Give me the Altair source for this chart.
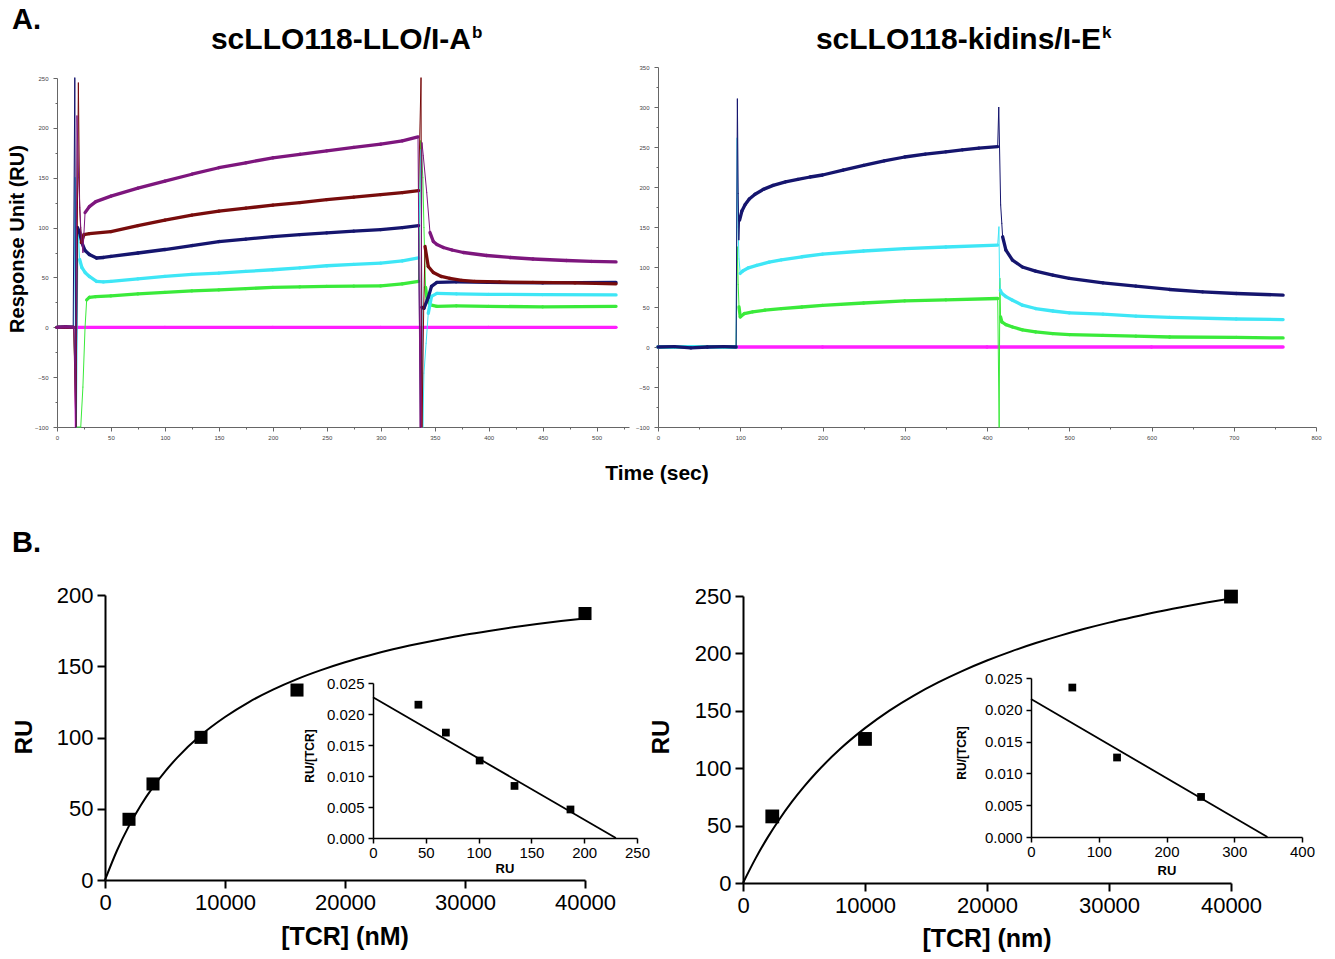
import altair as alt
import pandas as pd

W, H = 1335, 959
FONT = "Liberation Sans"

# ---------------- A. SPR sensorgrams (time in s, response in RU) ----------------
# left panel: scLLO118-LLO/I-Ab
L_PURPLE_T = [0, 8, 15.5, 16.5, 17.2, 18.5, 20, 22, 24, 26, 30, 36, 50, 75, 100, 125, 150, 175, 200, 225, 250, 275, 300, 320, 334.5, 336.5, 338.2, 339.4, 342.6, 345.6, 348.7, 352, 358, 366, 376.5, 398, 420, 441, 472, 495, 518]
L_PURPLE_RU = [0, 0.5, 0, -40, -100, 212, 150, 100, 75, 115, 121, 126, 131.5, 139.5, 146.6, 153.5, 160, 165, 170, 173.5, 177, 180.5, 183.6, 187, 191, -100, 185, 172, 135, 95, 86, 83, 80, 77.5, 75, 72, 70, 68.5, 67, 66, 65.5]
L_MAROON_T = [0, 8, 15.5, 17.5, 19.8, 21, 22.5, 25, 30, 50, 75, 100, 125, 150, 175, 200, 225, 250, 275, 300, 320, 335, 337.3, 338.2, 339.8, 341, 344, 348.7, 356, 364, 375, 387, 410, 441, 480, 518]
L_MAROON_RU = [0, 0, 0, -100, 245, 120, 85, 93, 94, 96, 102, 107.5, 112.5, 116.4, 119.5, 122.5, 125, 128, 130.5, 133, 135, 137, 250, -100, 20, 81, 61, 55, 51, 49, 47, 46, 45.5, 45, 44.5, 43.6]
L_NAVY_T = [0, 8, 15, 16.5, 17.5, 19, 21, 23, 26, 30, 36.6, 43, 50, 75, 100, 125, 150, 175, 200, 225, 250, 275, 300, 320, 335, 336.8, 338, 340, 344, 347, 352, 370, 400, 450, 518]
L_NAVY_RU = [0, 0.5, 0, 250, -100, 100, 95, 85, 77, 73, 69.5, 70, 71, 74.5, 78, 82, 86, 88.5, 91, 93, 94.6, 96.5, 98, 100, 102, -100, 20, 19, 30, 41, 45, 45.5, 45, 44.5, 45]
L_CYAN_T = [0, 8, 15.5, 16.8, 18, 19.5, 21, 23, 26, 30, 36.6, 43, 50, 75, 100, 125, 150, 175, 200, 225, 250, 275, 300, 320, 335, 337, 339, 340, 342, 344, 347, 352, 370, 400, 450, 518]
L_CYAN_RU = [0, 0, 0, 150, -100, 100, 68, 60, 55, 51, 46, 45.5, 46, 48.5, 51, 53, 54.4, 56, 57.7, 59.5, 61.7, 63, 64.4, 66.5, 69.5, 178, -100, -46, -16, 14, 31, 34, 33.5, 33, 32.8, 32.5]
L_GREEN_T = [0, 8, 15.5, 18, 22, 24, 26, 27.5, 30, 36, 50, 75, 100, 125, 150, 175, 200, 225, 250, 275, 300, 320, 335, 337, 339, 340, 341.5, 343, 346, 352, 370, 400, 450, 518]
L_GREEN_RU = [0, 0, 0, -100, -100, -60, 0, 27.5, 30, 30.8, 31.5, 33.5, 35, 36.5, 37.5, 38.8, 40, 40.5, 41, 41.3, 41.6, 43.5, 46, 187, 150, 100, 40, 27.5, 22.5, 21, 21.5, 21, 20.5, 21]
L_MAGENTA_T = [0, 16, 17, 18, 100, 200, 300, 336.5, 337.5, 338.5, 400, 518]
L_MAGENTA_RU = [0, 0, -100, 0, 0, 0, 0, 0, -100, 0, 0, 0]

# right panel: scLLO118-kidins/I-Ek
R_NAVY_T = [0, 20, 40, 60, 80, 95, 96.5, 97.5, 98.3, 99.2, 102, 106, 111, 118, 128, 140, 155, 170, 185, 200, 225, 250, 275, 300, 325, 350, 370, 390, 413, 414.3, 416.6, 418, 419, 423, 431, 443, 459, 480, 500, 541, 581, 622, 662, 703, 760]
R_NAVY_RU = [0, 0.5, -1, 0, 0.5, 0, 310, 192, 134, 158.7, 170, 178, 185, 191, 197, 202, 206.5, 209.5, 212.5, 215, 221.2, 227, 232.7, 237.5, 241.2, 244, 246.4, 248.5, 250.5, 299.5, 177.6, 154.6, 137.8, 121, 108.6, 100, 94.8, 89.8, 85.7, 80.2, 76, 71.9, 69, 66.9, 64.8]
R_CYAN_T = [0, 20, 40, 60, 80, 95, 96.2, 97.3, 98.5, 100, 103, 110, 120, 135, 150, 175, 200, 250, 300, 350, 413, 414.5, 415.2, 416.2, 418, 423, 431, 443, 459, 480, 500, 541, 581, 622, 703, 760]
R_CYAN_RU = [0, 0, 0.5, 0, 0, 0, 261, 150, 110, 92, 95, 99, 102, 106, 109, 112.8, 116, 120, 123, 125, 127.4, 150, 89.8, 71, 67, 63, 58.5, 52.3, 48.1, 45, 42.6, 41, 38.5, 37, 35, 34.3]
R_GREEN_T = [0, 20, 40, 60, 80, 95, 96.3, 97.5, 98.5, 100, 105, 115, 130, 150, 175, 200, 250, 300, 350, 413, 414.8, 415.6, 416.5, 418, 423, 431, 443, 459, 480, 500, 541, 581, 622, 703, 760]
R_GREEN_RU = [0, 0, 0, 0.5, 0, 0, 125, 78, 50, 37.6, 41.8, 44, 46, 48, 50, 52, 55, 57.6, 59, 60.6, -100, 85.7, 37.6, 31.3, 28, 25, 21.5, 18.8, 16.7, 15.5, 14.6, 13.5, 12.5, 12, 11.3]
R_MAGENTA_T = [0, 95, 200, 400, 600, 760]
R_MAGENTA_RU = [0, 0, 0, 0, 0, 0]

TRACE_NAMES = ["purple", "maroon", "navy", "cyan", "green", "magenta"]
TRACE_COLORS = ["#7d167d", "#780c0c", "#15156e", "#3ee6f6", "#3aea3a", "#ff1eff"]

# ---------------- B. equilibrium binding ----------------
BL_TCR = [2000, 4000, 8000, 16000, 40000]
BL_RU = [42.6, 67.4, 100.1, 133.3, 187]
BL_CURVE_TCR = [0, 1000, 2000, 3000, 4000, 5000, 6000, 8000, 10000, 12000, 14000, 16000, 18000, 20000, 22000, 24000, 26000, 28000, 30000, 32000, 34000, 36000, 38000, 40000]
BL_CURVE_RU = [0, 20.7, 38.0, 52.7, 65.2, 76.1, 85.7, 101.7, 114.4, 124.9, 133.6, 141.0, 147.3, 152.8, 157.6, 161.9, 165.6, 169.0, 172.1, 174.8, 177.3, 179.6, 181.7, 183.6]
IL_RU = [43, 69, 101, 134, 187]
IL_RATIO = [0.0215, 0.0170, 0.0125, 0.0084, 0.0046]
IL_FIT_RU = [0, 230]
IL_FIT_RATIO = [0.0227, 0.0]

BR_TCR = [2400, 10000, 40000]
BR_RU = [58, 125.5, 249.5]
BR_CURVE_TCR = BL_CURVE_TCR
BR_CURVE_RU = [0, 20.8, 39.3, 55.8, 70.6, 83.9, 96.0, 117.1, 134.9, 150.2, 163.3, 174.7, 184.8, 193.8, 201.8, 209.0, 215.5, 221.4, 226.8, 231.7, 236.3, 240.4, 244.3, 247.9]
IR_RU = [61, 127, 251]
IR_RATIO = [0.0235, 0.0125, 0.0063]
IR_FIT_RU = [0, 349]
IR_FIT_RATIO = [0.0217, 0.0]


def seg_frame(traces, lo, hi, thr):
    rows = []
    for name, t, ru in traces:
        for i in range(len(t) - 1):
            slope = abs(ru[i + 1] - ru[i]) / (t[i + 1] - t[i])
            steep = slope > thr or min(ru[i], ru[i + 1]) <= lo or max(ru[i], ru[i + 1]) >= hi
            rows.append({"trace": name, "t": t[i], "t2": t[i + 1], "ru": ru[i], "ru2": ru[i + 1],
                         "kind": "thin" if steep else "thick"})
    return pd.DataFrame(rows)


color_scale = alt.Scale(domain=TRACE_NAMES, range=TRACE_COLORS)
width_scale = alt.Scale(domain=["thin", "thick"], range=[1, 3.3])


def spr_panel(df, xdom, xr, xstep, xlab, ydom, yr, ystep, ylab, axis_y, axis_x):
    common = dict(grid=False, title=None, labelFont=FONT, labelFontSize=6, labelColor="#444",
                  domainColor="#666", tickColor="#666", labelFlush=False, labelOverlap=False)
    xaxis = alt.Axis(orient="bottom", offset=axis_y - H,
                     values=list(range(xdom[0], xdom[1] + 1, xstep)),
                     labelExpr=f"datum.value % {xlab} == 0 ? datum.label : ''",
                     tickSize={"condition": {"test": f"datum.value % {xlab} == 0", "value": 4}, "value": 2},
                     labelPadding=3, **common)
    yaxis = alt.Axis(orient="left", offset=-axis_x,
                     values=list(range(ydom[0], ydom[1] + 1, ystep)),
                     labelExpr=f"datum.value % {ylab} == 0 ? datum.label : ''",
                     tickSize={"condition": {"test": f"datum.value % {ylab} == 0", "value": 4}, "value": 2},
                     labelPadding=5, **common)
    return alt.Chart(df).mark_rule(strokeCap="round").encode(
        x=alt.X("t:Q", scale=alt.Scale(domain=xdom, range=xr, nice=False, zero=False), axis=xaxis),
        x2="t2:Q",
        y=alt.Y("ru:Q", scale=alt.Scale(domain=ydom, range=yr, nice=False, zero=False), axis=yaxis),
        y2="ru2:Q",
        color=alt.Color("trace:N", scale=color_scale, legend=None),
        strokeWidth=alt.StrokeWidth("kind:O", scale=width_scale, legend=None),
    )


left_traces = [("magenta", L_MAGENTA_T, L_MAGENTA_RU), ("green", L_GREEN_T, L_GREEN_RU),
               ("cyan", L_CYAN_T, L_CYAN_RU), ("navy", L_NAVY_T, L_NAVY_RU),
               ("maroon", L_MAROON_T, L_MAROON_RU), ("purple", L_PURPLE_T, L_PURPLE_RU)]
right_traces = [("magenta", R_MAGENTA_T, R_MAGENTA_RU), ("green", R_GREEN_T, R_GREEN_RU),
                ("cyan", R_CYAN_T, R_CYAN_RU), ("navy", R_NAVY_T, R_NAVY_RU)]

spr_left = spr_panel(seg_frame(left_traces, -100, 250, 9.5), [0, 530], [57, 629], 25, 50,
                     [-100, 250], [427, 78], 25, 50, 427, 57)
spr_right = spr_panel(seg_frame(right_traces, -100, 350, 9.5), [0, 800], [658, 1316], 50, 100,
                      [-100, 350], [427, 67], 25, 50, 427, 658)


def binding_panel(tcr, ru, ctcr, cru, xr, ydom, yr, axis_y, axis_x, sq):
    common = dict(grid=False, title=None, labelFont=FONT, labelFontSize=22, labelColor="black",
                  domainColor="black", domainWidth=2, tickColor="black", tickWidth=2, tickSize=8,
                  labelFlush=False, labelOverlap=False)
    xs = alt.X("x:Q", scale=alt.Scale(domain=[0, 40000], range=xr, nice=False, zero=False),
               axis=alt.Axis(orient="bottom", offset=axis_y - H, values=[0, 10000, 20000, 30000, 40000],
                             format="d", labelPadding=4, **common))
    ys = alt.Y("y:Q", scale=alt.Scale(domain=ydom, range=yr, nice=False, zero=False),
               axis=alt.Axis(orient="left", offset=-axis_x, values=list(range(0, ydom[1] + 1, 50)),
                             format="d", labelPadding=4, **common))
    curve = alt.Chart(pd.DataFrame({"x": ctcr, "y": cru})).mark_line(
        color="black", strokeWidth=2, interpolate="monotone").encode(x=xs, y=ys)
    pts = alt.Chart(pd.DataFrame({"x": tcr, "y": ru})).mark_square(
        color="black", size=sq, opacity=1).encode(x=xs, y=ys)
    return alt.layer(curve, pts)


def scatchard_panel(ru, ratio, fru, fratio, xdom, xstep, xr, yr, axis_y, axis_x):
    common = dict(grid=False, title=None, labelFont=FONT, labelFontSize=15, labelColor="black",
                  domainColor="black", domainWidth=1.5, tickColor="black", tickWidth=1.5, tickSize=5,
                  labelFlush=False, labelOverlap=False)
    xs = alt.X("x:Q", scale=alt.Scale(domain=xdom, range=xr, nice=False, zero=False),
               axis=alt.Axis(orient="bottom", offset=axis_y - H, values=list(range(0, xdom[1] + 1, xstep)),
                             format="d", labelPadding=2, **common))
    ys = alt.Y("y:Q", scale=alt.Scale(domain=[0, 0.025], range=yr, nice=False, zero=False),
               axis=alt.Axis(orient="left", offset=-axis_x, values=[0, 0.005, 0.01, 0.015, 0.02, 0.025],
                             format=".3f", labelPadding=4, **common))
    fit = alt.Chart(pd.DataFrame({"x": fru, "y": fratio})).mark_line(
        color="black", strokeWidth=1.8).encode(x=xs, y=ys)
    pts = alt.Chart(pd.DataFrame({"x": ru, "y": ratio})).mark_square(
        color="black", size=60, opacity=1).encode(x=xs, y=ys)
    return alt.layer(fit, pts)


b_left = binding_panel(BL_TCR, BL_RU, BL_CURVE_TCR, BL_CURVE_RU, [105, 585], [0, 200], [880, 595], 880, 105, 170)
b_right = binding_panel(BR_TCR, BR_RU, BR_CURVE_TCR, BR_CURVE_RU, [743, 1231], [0, 250], [883, 596], 883, 743, 190)
i_left = scatchard_panel(IL_RU, IL_RATIO, IL_FIT_RU, IL_FIT_RATIO, [0, 250], 50, [373, 637], [838, 683], 838, 373)
i_right = scatchard_panel(IR_RU, IR_RATIO, IR_FIT_RU, IR_FIT_RATIO, [0, 400], 100, [1031, 1302], [837, 678], 837, 1031)


def label(text, x, y, size, angle=0, align="center", baseline="alphabetic", weight="bold"):
    return alt.Chart(pd.DataFrame({"txt": [text]})).mark_text(
        x=x, y=y, fontSize=size, angle=angle, align=align, baseline=baseline,
        fontWeight=weight, font=FONT, color="black").encode(text="txt:N")


texts = [
    label("A.", 12, 29, 29, align="left"),
    label("B.", 12, 552, 29, align="left"),
    label("scLLO118-LLO/I-A", 471, 49, 30, align="right"),
    label("b", 472, 38, 17, align="left"),
    label("scLLO118-kidins/I-E", 1101, 49, 30, align="right"),
    label("k", 1102, 38, 17, align="left"),
    label("Response Unit (RU)", 18, 239, 20, angle=270, baseline="middle"),
    label("Time (sec)", 657, 474, 21, baseline="middle"),
    label("RU", 25, 737, 24, angle=270, baseline="middle"),
    label("[TCR] (nM)", 345, 937, 25, baseline="middle"),
    label("RU", 662, 737, 24, angle=270, baseline="middle"),
    label("[TCR] (nm)", 987, 939, 25, baseline="middle"),
    label("RU/[TCR]", 310, 756, 12, angle=270, baseline="middle"),
    label("RU/[TCR]", 962, 753, 12, angle=270, baseline="middle"),
    label("RU", 505, 869, 13, baseline="middle"),
    label("RU", 1167, 871, 13, baseline="middle"),
]

chart = alt.layer(spr_left, spr_right, b_left, i_left, b_right, i_right, *texts).resolve_scale(
    x="independent", y="independent"
).properties(
    width=W, height=H, autosize=alt.AutoSizeParams(type="none"), padding=0
).configure_view(strokeWidth=0)

chart.save("out.html", embed_options={"renderer": "svg", "actions": False})
